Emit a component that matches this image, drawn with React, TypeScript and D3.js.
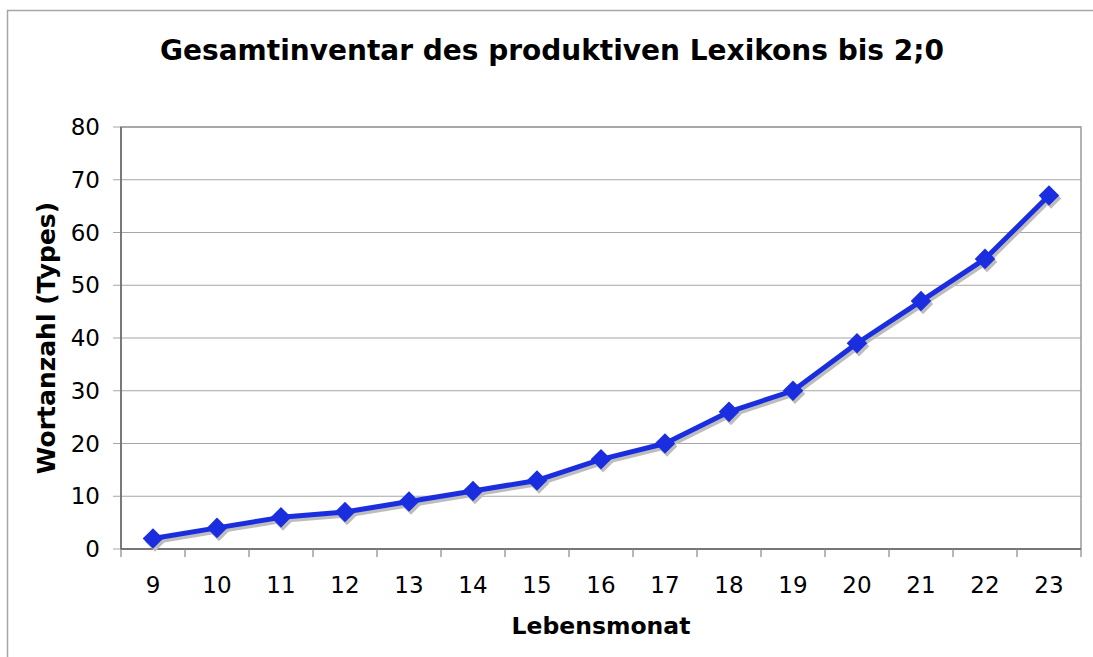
import React, { useEffect, useRef } from 'react';
import * as d3 from 'd3';

const months = ['9', '10', '11', '12', '13', '14', '15', '16', '17', '18', '19', '20', '21', '22', '23'];
const words = [2, 4, 6, 7, 9, 11, 13, 17, 20, 26, 30, 39, 47, 55, 67];
const yTicks = [0, 10, 20, 30, 40, 50, 60, 70, 80];

const App: React.FC = () => {
    const svgRef = useRef<SVGSVGElement>(null);

    useEffect(() => {
        if (!svgRef.current) return;
        const width = 1093;
        const height = 657;
        const svg = d3.select(svgRef.current);
        svg.selectAll('*').remove();

        const font = 'Verdana, "DejaVu Sans", sans-serif';
        const left = 121, right = 1081, top = 127, bottom = 549;

        // outer frame (top and left edges)
        svg.append('path')
            .attr('d', `M7.5,${height} V10.5 H${width}`)
            .attr('fill', 'none')
            .attr('stroke', '#a6a6a6')
            .attr('stroke-width', 1.5);

        const x = d3.scaleBand().domain(months).range([left, right]);
        const y = d3.scaleLinear().domain([0, 80]).range([bottom, top]);

        // gridlines
        svg.append('g').selectAll('line')
            .data(yTicks)
            .enter()
            .append('line')
            .attr('x1', left - 8)
            .attr('x2', right)
            .attr('y1', d => y(d))
            .attr('y2', d => y(d))
            .attr('stroke', '#a6a6a6')
            .attr('stroke-width', 1.2);

        // plot frame
        svg.append('rect')
            .attr('x', left)
            .attr('y', top)
            .attr('width', right - left)
            .attr('height', bottom - top)
            .attr('fill', 'none')
            .attr('stroke', '#9a9a9a')
            .attr('stroke-width', 1.5);
        svg.append('line')
            .attr('x1', left).attr('x2', right)
            .attr('y1', bottom).attr('y2', bottom)
            .attr('stroke', '#666').attr('stroke-width', 1.5);
        svg.append('line')
            .attr('x1', left).attr('x2', left)
            .attr('y1', top).attr('y2', bottom)
            .attr('stroke', '#666').attr('stroke-width', 1.5);

        // x ticks at category boundaries
        const bounds = months.map(m => x(m) as number).concat([right]);
        svg.append('g').selectAll('line')
            .data(bounds)
            .enter()
            .append('line')
            .attr('x1', d => d)
            .attr('x2', d => d)
            .attr('y1', bottom)
            .attr('y2', bottom + 8)
            .attr('stroke', '#888')
            .attr('stroke-width', 1.2);

        // y tick labels
        svg.append('g').selectAll('text')
            .data(yTicks)
            .enter()
            .append('text')
            .attr('x', 100)
            .attr('y', d => y(d) + 8)
            .attr('text-anchor', 'end')
            .attr('font-family', font)
            .attr('font-size', 23)
            .attr('fill', '#000')
            .text(d => d);

        // x tick labels
        svg.append('g').selectAll('text')
            .data(months)
            .enter()
            .append('text')
            .attr('x', d => (x(d) as number) + x.bandwidth() / 2)
            .attr('y', 593)
            .attr('text-anchor', 'middle')
            .attr('font-family', font)
            .attr('font-size', 23)
            .attr('fill', '#000')
            .text(d => d);

        const pts = months.map((m, i) => [(x(m) as number) + x.bandwidth() / 2, y(words[i])] as [number, number]);
        const line = d3.line<[number, number]>().x(d => d[0]).y(d => d[1]);
        const diamond = d3.symbol().type(d3.symbolDiamond2).size(270);

        // shadow
        svg.append('path')
            .attr('d', line(pts))
            .attr('transform', 'translate(2,3)')
            .attr('fill', 'none')
            .attr('stroke', '#bdbdbd')
            .attr('stroke-width', 5)
            .attr('stroke-linejoin', 'round');
        svg.append('g').selectAll('path')
            .data(pts)
            .enter()
            .append('path')
            .attr('d', diamond)
            .attr('transform', d => `translate(${d[0] + 2},${d[1] + 3})`)
            .attr('fill', '#bdbdbd');

        // series
        svg.append('path')
            .attr('d', line(pts))
            .attr('fill', 'none')
            .attr('stroke', '#1a2ee0')
            .attr('stroke-width', 5)
            .attr('stroke-linejoin', 'round');
        svg.append('g').selectAll('path')
            .data(pts)
            .enter()
            .append('path')
            .attr('d', diamond)
            .attr('transform', d => `translate(${d[0]},${d[1]})`)
            .attr('fill', '#1a2ee0');

        // titles
        svg.append('text')
            .attr('x', 552)
            .attr('y', 60)
            .attr('text-anchor', 'middle')
            .attr('font-family', font)
            .attr('font-weight', 'bold')
            .attr('font-size', 28)
            .text('Gesamtinventar des produktiven Lexikons bis 2;0');

        svg.append('text')
            .attr('x', (left + right) / 2)
            .attr('y', 634)
            .attr('text-anchor', 'middle')
            .attr('font-family', font)
            .attr('font-weight', 'bold')
            .attr('font-size', 23.5)
            .text('Lebensmonat');

        svg.append('text')
            .attr('transform', `translate(55,${(top + bottom) / 2}) rotate(-90)`)
            .attr('text-anchor', 'middle')
            .attr('font-family', font)
            .attr('font-weight', 'bold')
            .attr('font-size', 25)
            .text('Wortanzahl (Types)');
    }, []);

    return (
        <svg ref={svgRef} width={1093} height={657}
            style={{ position: 'absolute', left: 0, top: 0, background: '#fff' }} />
    );
};

export default App;
